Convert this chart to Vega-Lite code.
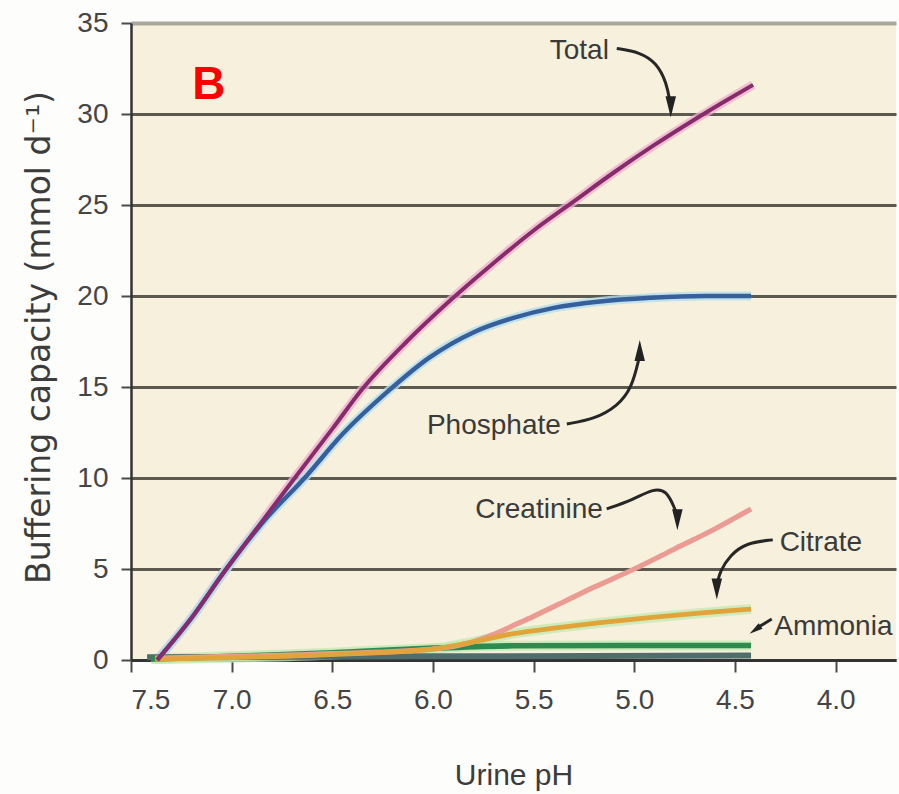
{
  "$schema": "https://vega.github.io/schema/vega-lite/v6.json",
  "width": 765,
  "height": 637,
  "autosize": {"type": "none"},
  "padding": {"left": 131, "top": 23, "right": 3, "bottom": 134},
  "background": "#fdfdfb",
  "view": {"fill": "#f6f0dc", "stroke": null},
  "config": {
    "font": "Liberation Sans",
    "axis": {
      "labelFont": "Liberation Sans",
      "titleFont": "Liberation Sans",
      "labelFontSize": 28,
      "labelColor": "#454545",
      "titleColor": "#3c3c3c",
      "titleFontWeight": "normal",
      "domainColor": "#333333",
      "tickColor": "#4a4a4a",
      "tickWidth": 2
    }
  },
  "datasets": {
    "curves": [
      {"series": "Other", "ph": 7.42, "v": 0.15},
      {"series": "Other", "ph": 6.0, "v": 0.2},
      {"series": "Other", "ph": 4.42, "v": 0.25},
      {"series": "Ammonia", "ph": 7.4, "v": 0.05},
      {"series": "Ammonia", "ph": 7.0, "v": 0.2},
      {"series": "Ammonia", "ph": 6.5, "v": 0.4},
      {"series": "Ammonia", "ph": 6.0, "v": 0.65},
      {"series": "Ammonia", "ph": 5.6, "v": 0.78},
      {"series": "Ammonia", "ph": 5.0, "v": 0.8},
      {"series": "Ammonia", "ph": 4.42, "v": 0.8},
      {"series": "Creatinine", "ph": 7.38, "v": 0.1},
      {"series": "Creatinine", "ph": 6.5, "v": 0.35},
      {"series": "Creatinine", "ph": 6.0, "v": 0.6},
      {"series": "Creatinine", "ph": 5.9, "v": 0.75},
      {"series": "Creatinine", "ph": 5.8, "v": 1.0},
      {"series": "Creatinine", "ph": 5.7, "v": 1.4},
      {"series": "Creatinine", "ph": 5.6, "v": 1.9},
      {"series": "Creatinine", "ph": 5.5, "v": 2.4},
      {"series": "Creatinine", "ph": 5.35, "v": 3.2},
      {"series": "Creatinine", "ph": 5.2, "v": 4.0},
      {"series": "Creatinine", "ph": 5.0, "v": 5.0},
      {"series": "Creatinine", "ph": 4.8, "v": 6.1},
      {"series": "Creatinine", "ph": 4.6, "v": 7.2},
      {"series": "Creatinine", "ph": 4.42, "v": 8.3},
      {"series": "Citrate", "ph": 7.38, "v": 0.05},
      {"series": "Citrate", "ph": 6.5, "v": 0.3},
      {"series": "Citrate", "ph": 6.0, "v": 0.6},
      {"series": "Citrate", "ph": 5.8, "v": 1.0},
      {"series": "Citrate", "ph": 5.6, "v": 1.45},
      {"series": "Citrate", "ph": 5.4, "v": 1.75},
      {"series": "Citrate", "ph": 5.17, "v": 2.05},
      {"series": "Citrate", "ph": 4.9, "v": 2.35},
      {"series": "Citrate", "ph": 4.65, "v": 2.6},
      {"series": "Citrate", "ph": 4.42, "v": 2.8},
      {"series": "Phosphate", "ph": 7.37, "v": 0},
      {"series": "Phosphate", "ph": 7.2, "v": 2.3},
      {"series": "Phosphate", "ph": 7.04, "v": 4.8},
      {"series": "Phosphate", "ph": 6.85, "v": 7.5},
      {"series": "Phosphate", "ph": 6.63, "v": 10.1},
      {"series": "Phosphate", "ph": 6.45, "v": 12.4},
      {"series": "Phosphate", "ph": 6.23, "v": 14.7},
      {"series": "Phosphate", "ph": 6.02, "v": 16.6},
      {"series": "Phosphate", "ph": 5.8, "v": 18.0},
      {"series": "Phosphate", "ph": 5.6, "v": 18.8},
      {"series": "Phosphate", "ph": 5.4, "v": 19.35},
      {"series": "Phosphate", "ph": 5.17, "v": 19.7},
      {"series": "Phosphate", "ph": 4.92, "v": 19.9},
      {"series": "Phosphate", "ph": 4.65, "v": 20.0},
      {"series": "Phosphate", "ph": 4.42, "v": 20.0},
      {"series": "Total", "ph": 7.37, "v": 0},
      {"series": "Total", "ph": 7.2, "v": 2.3},
      {"series": "Total", "ph": 7.04, "v": 4.8},
      {"series": "Total", "ph": 6.85, "v": 7.6},
      {"series": "Total", "ph": 6.68, "v": 10.1},
      {"series": "Total", "ph": 6.5, "v": 12.7},
      {"series": "Total", "ph": 6.35, "v": 14.9},
      {"series": "Total", "ph": 6.13, "v": 17.5},
      {"series": "Total", "ph": 5.93, "v": 19.6},
      {"series": "Total", "ph": 5.7, "v": 21.8},
      {"series": "Total", "ph": 5.5, "v": 23.6},
      {"series": "Total", "ph": 5.3, "v": 25.2},
      {"series": "Total", "ph": 5.1, "v": 26.8},
      {"series": "Total", "ph": 4.9, "v": 28.3},
      {"series": "Total", "ph": 4.7, "v": 29.7},
      {"series": "Total", "ph": 4.55, "v": 30.7},
      {"series": "Total", "ph": 4.41, "v": 31.6}
    ],
    "arrows": [
      {"arrow": "Total", "i": 0, "ph": 5.087, "v": 33.6},
      {"arrow": "Total", "i": 1, "ph": 4.973, "v": 33.4},
      {"arrow": "Total", "i": 2, "ph": 4.888, "v": 32.8},
      {"arrow": "Total", "i": 3, "ph": 4.839, "v": 31.7},
      {"arrow": "Total", "i": 4, "ph": 4.822, "v": 30.6},
      {"arrow": "Phosphate", "i": 0, "ph": 5.335, "v": 12.97},
      {"arrow": "Phosphate", "i": 1, "ph": 5.196, "v": 13.24},
      {"arrow": "Phosphate", "i": 2, "ph": 5.082, "v": 13.96},
      {"arrow": "Phosphate", "i": 3, "ph": 5.012, "v": 14.95},
      {"arrow": "Phosphate", "i": 4, "ph": 4.976, "v": 16.6},
      {"arrow": "Creatinine", "i": 0, "ph": 5.137, "v": 8.3},
      {"arrow": "Creatinine", "i": 1, "ph": 5.008, "v": 8.8},
      {"arrow": "Creatinine", "i": 2, "ph": 4.908, "v": 9.4},
      {"arrow": "Creatinine", "i": 3, "ph": 4.839, "v": 9.35},
      {"arrow": "Creatinine", "i": 4, "ph": 4.795, "v": 8.2},
      {"arrow": "Citrate", "i": 0, "ph": 4.312, "v": 6.6},
      {"arrow": "Citrate", "i": 1, "ph": 4.441, "v": 6.45},
      {"arrow": "Citrate", "i": 2, "ph": 4.526, "v": 5.75},
      {"arrow": "Citrate", "i": 3, "ph": 4.575, "v": 4.85},
      {"arrow": "Citrate", "i": 4, "ph": 4.588, "v": 4.2},
      {"arrow": "Ammonia", "i": 0, "ph": 4.317, "v": 2.25},
      {"arrow": "Ammonia", "i": 1, "ph": 4.385, "v": 1.8}
    ],
    "heads": [
      {"arrow": "Total", "dir": "down", "ph": 4.819, "v": 30.4},
      {"arrow": "Phosphate", "dir": "up", "ph": 4.973, "v": 17.0},
      {"arrow": "Creatinine", "dir": "down", "ph": 4.786, "v": 7.7},
      {"arrow": "Citrate", "dir": "down", "ph": 4.590, "v": 3.9},
      {"arrow": "Ammonia", "dir": "downleft", "ph": 4.40, "v": 1.65}
    ],
    "labels": [
      {"text": "Total", "ph": 5.42, "v": 33.0},
      {"text": "Phosphate", "ph": 6.03, "v": 12.4},
      {"text": "Creatinine", "ph": 5.79, "v": 7.8},
      {"text": "Citrate", "ph": 4.278, "v": 6.0},
      {"text": "Ammonia", "ph": 4.305, "v": 1.4}
    ],
    "panel": [
      {"text": "B", "ph": 7.113, "v": 30.8}
    ]
  },
  "encoding": {
    "x": {
      "field": "ph",
      "type": "quantitative",
      "scale": {"domain": [7.5, 3.7], "nice": false, "zero": false},
      "axis": {
        "title": "Urine pH",
        "values": [7.5, 7.0, 6.5, 6.0, 5.5, 5.0, 4.5, 4.0],
        "format": ".1f",
        "grid": false,
        "domainWidth": 3,
        "tickSize": 12,
        "labelPadding": 14,
        "titleFontSize": 30,
        "titleY": 124,
        "titleBaseline": "alphabetic"
      }
    },
    "y": {
      "field": "v",
      "type": "quantitative",
      "scale": {"domain": [0, 35], "nice": false},
      "axis": {
        "title": "Buffering capacity (mmol d⁻¹)",
        "titleFont": "DejaVu Sans",
        "titleFontSize": 33,
        "titleAngle": 270,
        "titleX": -92,
        "titleY": 314,
        "titleAlign": "center",
        "titleBaseline": "middle",
        "values": [0, 5, 10, 15, 20, 25, 30, 35],
        "grid": true,
        "gridColor": {"condition": {"test": "datum.value == 35", "value": "#aaa79c"}, "value": "#5c5a4e"},
        "gridWidth": {"condition": {"test": "datum.value == 35", "value": 4}, "value": 3},
        "domainWidth": 2.5,
        "tickSize": 10,
        "labelPadding": 13
      }
    }
  },
  "layer": [
    {
      "data": {"name": "curves"},
      "transform": [{"filter": "datum.series == 'Total'"}],
      "mark": {"type": "line", "interpolate": "monotone", "color": "#efaccd", "strokeWidth": 9, "opacity": 0.75}
    },
    {
      "data": {"name": "curves"},
      "transform": [{"filter": "datum.series == 'Phosphate'"}],
      "mark": {"type": "line", "interpolate": "monotone", "color": "#b5dfec", "strokeWidth": 9, "opacity": 0.8}
    },
    {
      "data": {"name": "curves"},
      "transform": [{"filter": "datum.series == 'Ammonia' || datum.series == 'Citrate'"}],
      "mark": {"type": "line", "interpolate": "monotone", "color": "#c4eab4", "strokeWidth": 10, "opacity": 0.8},
      "encoding": {"detail": {"field": "series"}}
    },
    {
      "data": {"name": "curves"},
      "mark": {"type": "line", "interpolate": "monotone"},
      "encoding": {
        "color": {
          "field": "series",
          "type": "nominal",
          "legend": null,
          "scale": {
            "domain": ["Other", "Ammonia", "Creatinine", "Citrate", "Phosphate", "Total"],
            "range": ["#4e6d6b", "#2e8a4f", "#eb9b93", "#e1a43a", "#365f9b", "#862c6c"]
          }
        },
        "strokeWidth": {
          "field": "series",
          "type": "nominal",
          "legend": null,
          "scale": {
            "domain": ["Other", "Ammonia", "Creatinine", "Citrate", "Phosphate", "Total"],
            "range": [6, 4, 3.5, 5, 4, 4]
          }
        }
      }
    },
    {
      "data": {"name": "arrows"},
      "mark": {"type": "line", "interpolate": "basis", "color": "#262626", "strokeWidth": 3},
      "encoding": {
        "detail": {"field": "arrow"},
        "order": {"field": "i", "type": "quantitative"}
      }
    },
    {
      "data": {"name": "heads"},
      "transform": [{"filter": "datum.dir == 'down'"}],
      "mark": {"type": "point", "shape": "M-0.5,-1L0.5,-1L0,1Z", "filled": true, "color": "#222222", "opacity": 1, "size": 440}
    },
    {
      "data": {"name": "heads"},
      "transform": [{"filter": "datum.dir == 'up'"}],
      "mark": {"type": "point", "shape": "M-0.5,1L0.5,1L0,-1Z", "filled": true, "color": "#222222", "opacity": 1, "size": 440}
    },
    {
      "data": {"name": "heads"},
      "transform": [{"filter": "datum.dir == 'downleft'"}],
      "mark": {"type": "point", "shape": "M-0.5,-1L0.5,-1L0,1Z", "angle": 55, "filled": true, "color": "#222222", "opacity": 1, "size": 180}
    },
    {
      "data": {"name": "labels"},
      "mark": {"type": "text", "align": "left", "baseline": "alphabetic", "fontSize": 28, "color": "#3a3a3a", "font": "Liberation Sans"},
      "encoding": {"text": {"field": "text"}}
    },
    {
      "data": {"name": "panel"},
      "mark": {"type": "text", "align": "center", "baseline": "alphabetic", "fontSize": 46, "fontWeight": "bold", "color": "#ff0000", "font": "Liberation Sans"},
      "encoding": {"text": {"field": "text"}}
    }
  ]
}
